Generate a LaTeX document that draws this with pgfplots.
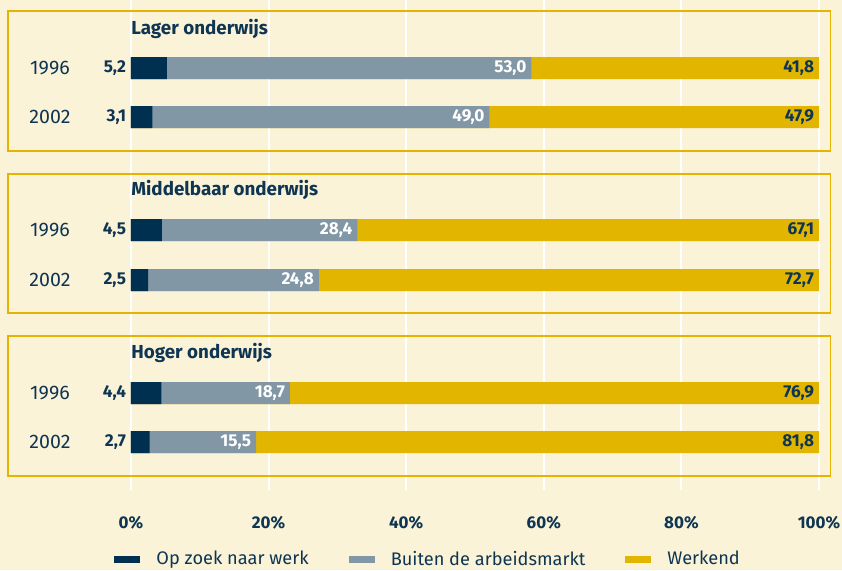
\documentclass[border=0pt]{standalone}
\usepackage{fontspec}
\setmainfont{Fira Sans}
\usepackage{pgfplots}
\usepackage{pgfplotstable}
\pgfplotsset{compat=1.18}

\definecolor{bg}{HTML}{FBF3D8}
\definecolor{navy}{HTML}{00304F}
\definecolor{grijs}{HTML}{8197A5}
\definecolor{geel}{HTML}{E1B500}
\definecolor{rand}{HTML}{E5B300}
\definecolor{txt}{HTML}{0E3552}

% pos = 570 - pixel row of the bar centre
\pgfplotstableread{
pos navy gray yellow
502 5.2 53.0 41.8
453 3.1 49.0 47.9
340 4.5 28.4 67.1
290 2.5 24.8 72.7
177 4.4 18.7 76.9
128 2.7 15.5 81.8
}\data

\begin{document}
\begin{tikzpicture}[text=txt]
\fill[bg] (0,0) rectangle (421pt,-285pt);
\begin{axis}[
  at={(65.5pt,0pt)}, anchor=north west,
  scale only axis, width=344pt, height=245pt,
  xmin=0, xmax=100, ymin=80, ymax=570,
  xbar, bar width=22, bar shift=0pt,
  clip=false,
  axis line style={draw=none},
  major tick length=0pt,
  xmajorgrids,
  grid style={white, line width=1pt},
  xtick={0,20,...,100},
  xticklabels={0\%,20\%,40\%,60\%,80\%,100\%},
  xticklabel style={anchor=center, yshift=-16.5pt, font=\fontsize{8.5}{10}\selectfont\bfseries, text=txt},
  ytick={502,453,340,290,177,128},
  yticklabels={1996,2002,1996,2002,1996,2002},
  yticklabel style={anchor=center, xshift=-40.5pt, font=\fontsize{9.8}{11}\selectfont, text=txt},
  /pgf/number format/assume math mode=true,
  nodes near coords={\llap{\pgfmathprintnumber[fixed,fixed zerofill,precision=1,use comma]{\pgfplotspointmeta}}},
  nodes near coords align={horizontal},
  point meta=explicit,
  every node near coord/.append style={inner sep=0pt, xshift=-3.2pt,
     font=\fontsize{8.6}{10}\selectfont\bfseries},
  leg/.style={legend image code/.code={\fill[##1] (0pt,-1.6pt) rectangle (13pt,1.6pt);}},
  reverse legend,
  legend style={at={(0.4334,-0.142)}, anchor=center, draw=none, fill=none,
     legend columns=3, font=\fontsize{9.1}{11}\selectfont, text=txt,
     /tikz/every odd column/.append style={column sep=6pt},
     /tikz/every even column/.append style={column sep=18pt}},
  legend cell align=left,
]
% panel frames
\draw[rand, line width=0.65pt] (axis cs:-17.88,559) rectangle (axis cs:101.67,419);
\draw[rand, line width=0.65pt] (axis cs:-17.88,396) rectangle (axis cs:101.67,257);
\draw[rand, line width=0.65pt] (axis cs:-17.88,234) rectangle (axis cs:101.67,94);
\node[anchor=west, inner sep=0pt, font=\fontsize{9.4}{11}\selectfont\bfseries] at (axis cs:0,541) {Lager onderwijs};
\node[anchor=west, inner sep=0pt, font=\fontsize{9.4}{11}\selectfont\bfseries] at (axis cs:0,380) {Middelbaar onderwijs};
\node[anchor=west, inner sep=0pt, font=\fontsize{9.4}{11}\selectfont\bfseries] at (axis cs:0,217) {Hoger onderwijs};
% bars drawn back to front: each one ends where its segment ends
\addplot[fill=geel, draw=none, leg, every node near coord/.append style={text=txt}]
  table[x expr=\thisrow{navy}+\thisrow{gray}+\thisrow{yellow}, y=pos, meta=yellow] {\data};
\addlegendentry{Werkend}
\addplot[fill=grijs, draw=none, leg, every node near coord/.append style={text=white}]
  table[x expr=\thisrow{navy}+\thisrow{gray}, y=pos, meta=gray] {\data};
\addlegendentry{Buiten de arbeidsmarkt}
\addplot[fill=navy, draw=none, leg, nodes near coords={}]
  table[x=navy, y=pos, meta=navy] {\data};
\addlegendentry{Op zoek naar werk}
% labels left of the bars
\addplot[draw=none, fill=none, forget plot, every node near coord/.append style={text=txt}]
  table[x expr=0, y=pos, meta=navy] {\data};
\end{axis}
\pgfresetboundingbox
\path[use as bounding box] (0,0) rectangle (421pt,-285pt);
\end{tikzpicture}
\end{document}
